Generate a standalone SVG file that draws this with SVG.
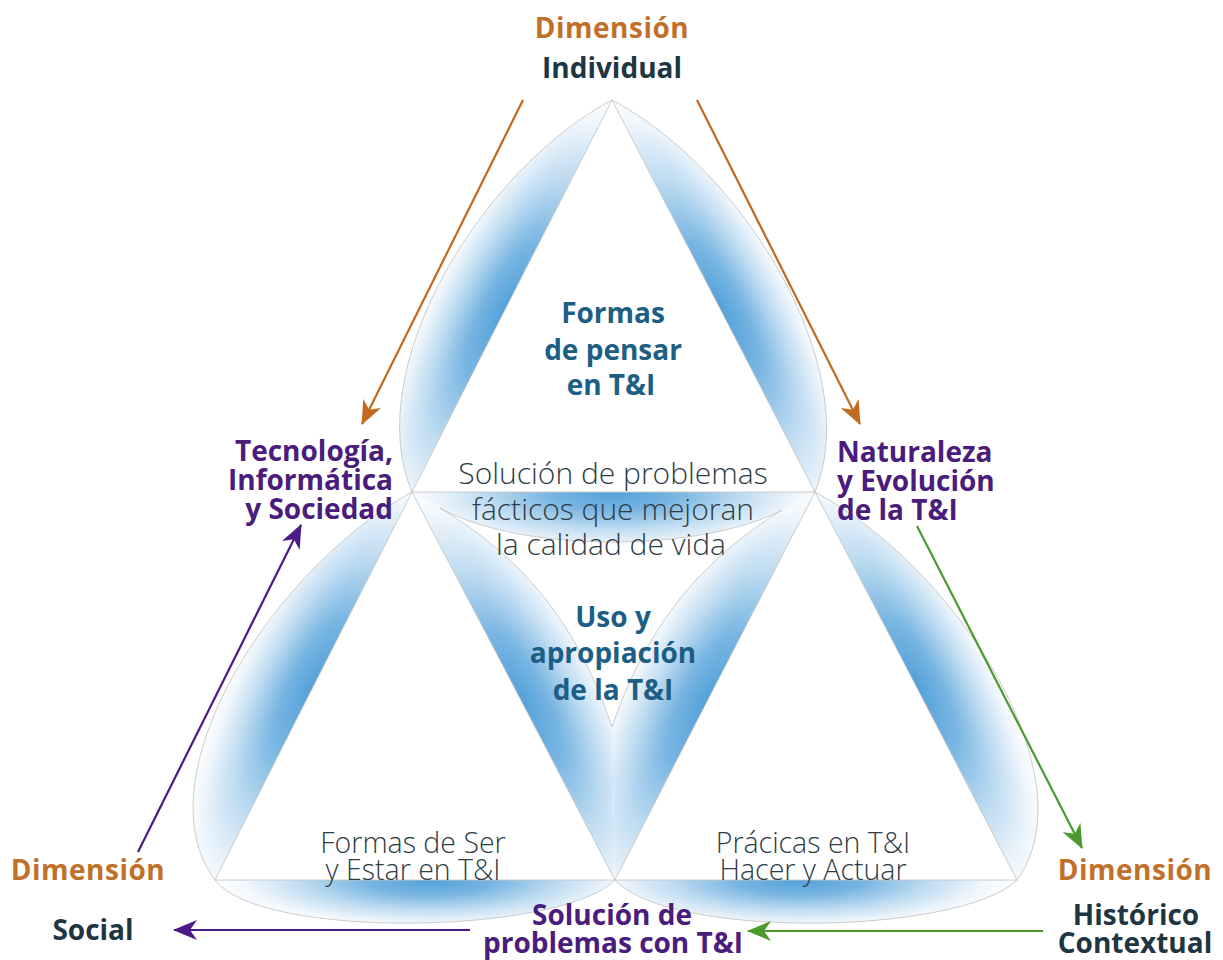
<svg xmlns="http://www.w3.org/2000/svg" width="1223" height="960" viewBox="0 0 1223 960">
<style>
.bold{font-family:"Open Sans","Liberation Sans",sans-serif;font-weight:700;font-size:28px;}
.light{font-family:"Open Sans","Liberation Sans",sans-serif;font-weight:300;font-size:30px;fill:#2e3c46;}
.small{font-size:28.5px;}
.dim{fill:#c1702a;}
.dark{fill:#1e3542;}
.purple{fill:#4a1c7c;}
.teal{fill:#1d5e85;}
.grid{fill:none;stroke:#c6c6c6;stroke-width:0.9;}
.arrow-o{stroke:#c0691f;stroke-width:2.2;fill:none;}
.arrow-p{stroke:#4b1a86;stroke-width:2.2;fill:none;}
.arrow-g{stroke:#4a9a2e;stroke-width:2.2;fill:none;}
</style>
<defs>
<radialGradient id="gBase">
<stop offset="0" stop-color="#52a0d9"/>
<stop offset="0.3" stop-color="#78b5e2"/>
<stop offset="0.6" stop-color="#bfdcf1"/>
<stop offset="0.85" stop-color="#eff6fc"/>
<stop offset="1" stop-color="#ffffff"/>
</radialGradient>
<radialGradient id="g1" href="#gBase" gradientUnits="userSpaceOnUse" cx="0" cy="0" r="1" gradientTransform="translate(505,310) rotate(117) scale(245,78)"/>
<radialGradient id="g2" href="#gBase" gradientUnits="userSpaceOnUse" cx="0" cy="0" r="1" gradientTransform="translate(720,310) rotate(62.6) scale(245,78)"/>
<radialGradient id="g3" href="#gBase" gradientUnits="userSpaceOnUse" cx="0" cy="0" r="1" gradientTransform="translate(313.5,686) rotate(116.9) scale(240,82)"/>
<radialGradient id="g4" href="#gBase" gradientUnits="userSpaceOnUse" cx="0" cy="0" r="1" gradientTransform="translate(430,880) scale(215,50)"/>
<radialGradient id="g5" href="#gBase" gradientUnits="userSpaceOnUse" cx="0" cy="0" r="1" gradientTransform="translate(916,686) rotate(62.5) scale(240,82)"/>
<radialGradient id="g6" href="#gBase" gradientUnits="userSpaceOnUse" cx="0" cy="0" r="1" gradientTransform="translate(800,880) scale(215,50)"/>
<radialGradient id="g7" href="#gBase" gradientUnits="userSpaceOnUse" cx="0" cy="0" r="1" gradientTransform="translate(613.5,492) scale(215,62)"/>
<radialGradient id="g8" href="#gBase" gradientUnits="userSpaceOnUse" cx="0" cy="0" r="1" gradientTransform="translate(520,700) rotate(62.4) scale(240,88)"/>
<radialGradient id="g9" href="#gBase" gradientUnits="userSpaceOnUse" cx="0" cy="0" r="1" gradientTransform="translate(708,700) rotate(117.3) scale(240,88)"/>
<marker id="mO" viewBox="0 0 24 20" refX="23" refY="10" markerWidth="24" markerHeight="20" markerUnits="userSpaceOnUse" orient="auto"><path d="M0,0 L24,10 L0,20 L7,10 Z" fill="#c0691f"/></marker>
<marker id="mP" viewBox="0 0 24 20" refX="23" refY="10" markerWidth="24" markerHeight="20" markerUnits="userSpaceOnUse" orient="auto"><path d="M0,0 L24,10 L0,20 L7,10 Z" fill="#4b1a86"/></marker>
<marker id="mG" viewBox="0 0 24 20" refX="23" refY="10" markerWidth="24" markerHeight="20" markerUnits="userSpaceOnUse" orient="auto"><path d="M0,0 L24,10 L0,20 L7,10 Z" fill="#4a9a2e"/></marker>
</defs>
<rect width="1223" height="960" fill="#ffffff"/>

<g id="petals">
<path d="M612,100 L412,492 C360,370 480,170 612,100 Z" fill="url(#g1)"/>
<path d="M612,100 L815,492 C865,370 745,170 612,100 Z" fill="url(#g2)"/>
<path d="M412,492 L215,880 C140,780 270,570 412,492 Z" fill="url(#g3)"/>
<path d="M215,880 L615,880 C560,935 260,940 215,880 Z" fill="url(#g4)"/>
<path d="M815,492 L1017,880 C1090,780 960,570 815,492 Z" fill="url(#g5)"/>
<path d="M615,880 L1017,880 C960,935 670,940 615,880 Z" fill="url(#g6)"/>
<path d="M412,492 L815,492 L782,510 C700,553 520,553 440,508 Z" fill="url(#g7)"/>
<path d="M412,492 L615,880 L612,727 C570,600 500,545 440,508 Z" fill="url(#g8)"/>
<path d="M815,492 L615,880 L612,727 C655,600 727,545 782,510 Z" fill="url(#g9)"/>
</g>

<g id="outline">
<path class="grid" d="M612,100 L412,492 L215,880 L615,880 L1017,880 L815,492 Z M412,492 L815,492 L615,880 Z"/>
<path class="grid" d="M612,100 C480,170 360,370 412,492 C270,570 140,780 215,880 C260,940 560,935 615,880 C670,940 960,935 1017,880 C1090,780 960,570 815,492 C865,370 745,170 612,100"/>
<path class="grid" d="M440,508 C520,553 700,553 782,510 M440,508 C500,545 570,600 612,727 C655,600 727,545 782,510"/>
</g>

<g id="connectors">
<line class="arrow-o" x1="523" y1="100" x2="362" y2="424" marker-end="url(#mO)"/>
<line class="arrow-o" x1="697" y1="100" x2="860" y2="424" marker-end="url(#mO)"/>
<line class="arrow-p" x1="138" y1="852" x2="301" y2="525" marker-end="url(#mP)"/>
<line class="arrow-p" x1="470" y1="930" x2="174" y2="930" marker-end="url(#mP)"/>
<line class="arrow-g" x1="917" y1="526" x2="1082" y2="848" marker-end="url(#mG)"/>
<line class="arrow-g" x1="1043" y1="931" x2="748" y2="931" marker-end="url(#mG)"/>
</g>

<g id="dim-individual" text-anchor="middle">
<text class="bold dim" x="612" y="38" letter-spacing="0.5">Dimensión</text>
<text class="bold dark" x="612" y="78">Individual</text>
</g>

<g id="dim-social">
<text class="bold dim" x="88" y="880" text-anchor="middle" letter-spacing="0.5">Dimensión</text>
<text class="bold dark" x="93" y="940" text-anchor="middle">Social</text>
</g>

<g id="dim-historico" text-anchor="middle">
<text class="bold dim" x="1135" y="880" letter-spacing="0.5">Dimensión</text>
<text class="bold dark" x="1136" y="925">Histórico</text>
<text class="bold dark" x="1135" y="953">Contextual</text>
</g>

<g id="tec-sociedad" text-anchor="end">
<text class="bold purple" x="393" y="461">Tecnología,</text>
<text class="bold purple" x="393" y="490">Informática</text>
<text class="bold purple" x="393" y="519">y Sociedad</text>
</g>

<g id="naturaleza">
<text class="bold purple" x="837" y="462">Naturaleza</text>
<text class="bold purple" x="837" y="491">y Evolución</text>
<text class="bold purple" x="837" y="520">de la T&amp;I</text>
</g>

<g id="solucion-con" text-anchor="middle">
<text class="bold purple" x="612" y="925">Solución de</text>
<text class="bold purple" x="613" y="953">problemas con T&amp;I</text>
</g>

<g id="formas-pensar" text-anchor="middle">
<text class="bold teal" x="613" y="323">Formas</text>
<text class="bold teal" x="613" y="360">de pensar</text>
<text class="bold teal" x="611" y="395">en T&amp;I</text>
</g>

<g id="solucion-facticos" text-anchor="middle">
<text class="light" x="613" y="484">Solución de problemas</text>
<text class="light" x="613" y="520">fácticos que mejoran</text>
<text class="light" x="611" y="555">la calidad de vida</text>
</g>

<g id="uso-apropiacion" text-anchor="middle">
<text class="bold teal" x="613" y="627">Uso y</text>
<text class="bold teal" x="613" y="663">apropiación</text>
<text class="bold teal" x="613" y="700">de la T&amp;I</text>
</g>

<g id="formas-ser" text-anchor="middle">
<text class="light small" x="413" y="853">Formas de Ser</text>
<text class="light small" x="413" y="880">y Estar en T&amp;I</text>
</g>

<g id="practicas" text-anchor="middle">
<text class="light small" x="813" y="853">Prácicas en T&amp;I</text>
<text class="light small" x="813" y="880">Hacer y Actuar</text>
</g>
</svg>
